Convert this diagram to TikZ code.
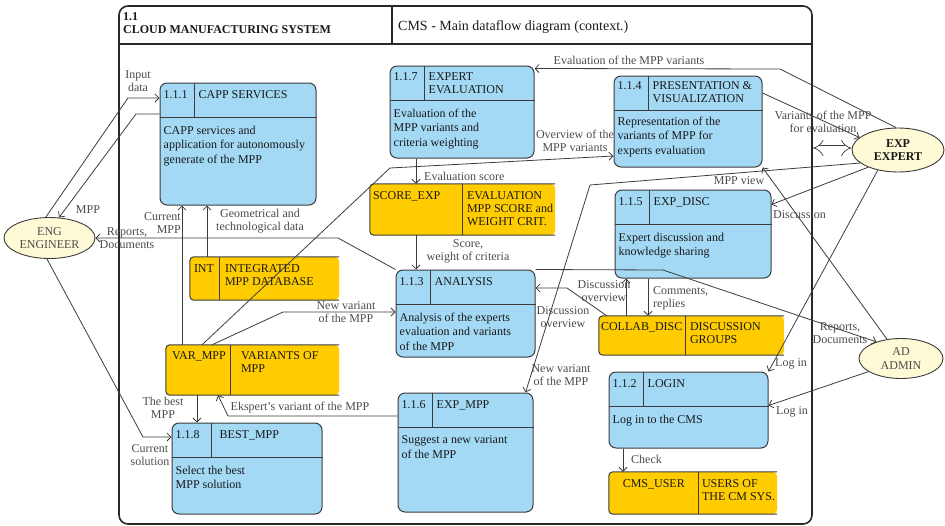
\documentclass[tikz,border=0pt]{standalone}
\usepackage{fontspec}
\setmainfont{Liberation Serif}
\usetikzlibrary{shapes.geometric,arrows.meta}

\begin{document}
\begin{tikzpicture}[x=1pt,y=-1pt,
    proc/.style={shape=rectangle,draw=linegray,line width=1pt,fill=procblue,rounded corners=7pt,inner sep=0pt},
    store/.style={shape=rectangle,fill=storeyellow,rounded corners=4pt,inner sep=0pt},
    ext/.style={shape=ellipse,draw=linegray,line width=0.9pt,fill=extcream,inner sep=0pt,align=center,text=txtgray,font=\fontsize{12}{13.5}\selectfont},
    idtxt/.style={anchor=north west,inner sep=0pt,align=left,text=txtdark,font=\fontsize{12}{13}\selectfont},
    bodytxt/.style={anchor=north west,inner sep=0pt,align=left,text=txtdark,font=\fontsize{12}{14.5}\selectfont},
    lbl/.style={inner sep=0pt,align=center,text=txtgray,font=\fontsize{12}{13}\selectfont},
    flow/.style={draw=linegray,line width=0.8pt,-{Straight Barb[length=4pt,width=8pt]}},
    dblflow/.style={draw=linegray,line width=0.7pt,double distance=5pt,{Implies[length=6pt]}-{Implies[length=6pt]}},
    divline/.style={draw=linegray,line width=1pt}]
    \definecolor{procblue}{RGB}{163,217,245}
    \definecolor{storeyellow}{RGB}{255,204,0}
    \definecolor{extcream}{RGB}{255,250,214}
    \definecolor{linegray}{RGB}{60,60,60}
    \definecolor{framegray}{RGB}{40,40,40}
    \definecolor{txtdark}{RGB}{25,25,25}
    \definecolor{txtgray}{RGB}{75,75,75}
    \useasboundingbox (0,0) rectangle (945,525);

    % frame of the diagram
    \draw[draw=framegray,line width=1.6pt,rounded corners=9pt] (119,6) rectangle (812,524);
    \draw[draw=framegray,line width=1.4pt] (119,44) -- (812,44) (392,6) -- (392,44);
    \node[idtxt,font=\fontsize{12}{13}\selectfont\bfseries] (title) at (123,12) {1.1\\CLOUD MANUFACTURING SYSTEM};
    \node[anchor=west,inner sep=0pt,text=txtdark,font=\fontsize{14}{16}\selectfont] (subtitle) at (398,27) {CMS - Main dataflow diagram (context.)};
    \coordinate (bnd) at (813,148);

    % processes
    \node[proc,minimum width=156,minimum height=122] (capp) at (238,144) {};
    \node[proc,minimum width=144,minimum height=92] (experteval) at (462,112) {};
    \node[proc,minimum width=148,minimum height=91] (present) at (688,121.5) {};
    \node[proc,minimum width=156,minimum height=88] (expdisc) at (693,234) {};
    \node[proc,minimum width=139,minimum height=87] (analysis) at (465.5,313.5) {};
    \node[proc,minimum width=135,minimum height=119] (expmpp) at (465.5,452.5) {};
    \node[proc,minimum width=159,minimum height=76] (login) at (688.5,410) {};
    \node[proc,minimum width=150,minimum height=91] (bestmpp) at (247,468.5) {};
    \foreach \b/\c in {capp/35,experteval/35,present/35,expdisc/35,analysis/35,expmpp/35,login/35,bestmpp/40}
        \draw[divline] ([yshift=-35]\b.north west) -- ([yshift=-35]\b.north east)
                       ([xshift=\c]\b.north west) -- ([xshift=\c,yshift=-35]\b.north west);

    \node[idtxt] (capp-id) at ([xshift=4,yshift=-8]capp.north west) {1.1.1};
    \node[idtxt] (capp-t) at ([xshift=39,yshift=-8]capp.north west) {CAPP SERVICES};
    \node[bodytxt] (capp-b) at ([xshift=4,yshift=-43]capp.north west) {CAPP services and\\application for autonomously\\generate of the MPP};
    \node[idtxt] (experteval-id) at ([xshift=4,yshift=-7]experteval.north west) {1.1.7};
    \node[idtxt] (experteval-t) at ([xshift=39,yshift=-7]experteval.north west) {EXPERT\\EVALUATION};
    \node[bodytxt] (experteval-b) at ([xshift=4,yshift=-43]experteval.north west) {Evaluation of the\\MPP variants and\\criteria weighting};
    \node[idtxt] (present-id) at ([xshift=4,yshift=-6]present.north west) {1.1.4};
    \node[idtxt] (present-t) at ([xshift=39,yshift=-6]present.north west) {PRESENTATION \&\\VISUALIZATION};
    \node[bodytxt] (present-b) at ([xshift=4,yshift=-41]present.north west) {Representation of the\\variants of MPP for\\experts evaluation};
    \node[idtxt] (expdisc-id) at ([xshift=4,yshift=-8]expdisc.north west) {1.1.5};
    \node[idtxt] (expdisc-t) at ([xshift=39,yshift=-8]expdisc.north west) {EXP\_DISC};
    \node[bodytxt] (expdisc-b) at ([xshift=4,yshift=-43]expdisc.north west) {Expert discussion and\\knowledge sharing};
    \node[idtxt] (analysis-id) at ([xshift=4,yshift=-8]analysis.north west) {1.1.3};
    \node[idtxt] (analysis-t) at ([xshift=39,yshift=-8]analysis.north west) {ANALYSIS};
    \node[bodytxt] (analysis-b) at ([xshift=4,yshift=-43]analysis.north west) {Analysis of the experts\\evaluation and variants\\of the MPP};
    \node[idtxt] (expmpp-id) at ([xshift=4,yshift=-8]expmpp.north west) {1.1.6};
    \node[idtxt] (expmpp-t) at ([xshift=39,yshift=-8]expmpp.north west) {EXP\_MPP};
    \node[bodytxt] (expmpp-b) at ([xshift=4,yshift=-43]expmpp.north west) {Suggest a new variant\\of the MPP};
    \node[idtxt] (login-id) at ([xshift=4,yshift=-8]login.north west) {1.1.2};
    \node[idtxt] (login-t) at ([xshift=39,yshift=-8]login.north west) {LOGIN};
    \node[bodytxt] (login-b) at ([xshift=4,yshift=-43]login.north west) {Log in to the CMS};
    \node[idtxt] (bestmpp-id) at ([xshift=4,yshift=-8]bestmpp.north west) {1.1.8};
    \node[idtxt] (bestmpp-t) at ([xshift=48,yshift=-8]bestmpp.north west) {BEST\_MPP};
    \node[bodytxt] (bestmpp-b) at ([xshift=4,yshift=-43]bestmpp.north west) {Select the best\\MPP solution};

    % data stores
    \node[store,minimum width=185,minimum height=51] (score) at (462.5,209.5) {};
    \node[store,minimum width=149,minimum height=43] (intdb) at (264.5,278.5) {};
    \node[store,minimum width=173,minimum height=50] (varmpp) at (252.5,370) {};
    \node[store,minimum width=185,minimum height=39] (collab) at (691.5,335.5) {};
    \node[store,minimum width=168,minimum height=42] (cmsuser) at (693,493) {};
    \foreach \s/\c in {score/93,intdb/30,varmpp/65,collab/87,cmsuser/90} {
        \draw[divline,rounded corners=4pt] (\s.north east) -| (\s.south west) -- (\s.south east);
        \draw[divline] ([xshift=\c]\s.north west) -- ([xshift=\c]\s.south west);
    }
    \node[idtxt] (score-id) at ([xshift=3,yshift=-8]score.north west) {SCORE\_EXP};
    \node[idtxt] (score-t) at ([xshift=97,yshift=-8]score.north west) {EVALUATION\\MPP SCORE and\\WEIGHT CRIT.};
    \node[idtxt] (intdb-id) at ([xshift=4,yshift=-8]intdb.north west) {INT};
    \node[idtxt] (intdb-t) at ([xshift=35,yshift=-8]intdb.north west) {INTEGRATED\\MPP DATABASE};
    \node[idtxt] (varmpp-id) at ([xshift=6,yshift=-7]varmpp.north west) {VAR\_MPP};
    \node[idtxt] (varmpp-t) at ([xshift=75,yshift=-7]varmpp.north west) {VARIANTS OF\\MPP};
    \node[idtxt] (collab-id) at ([xshift=2,yshift=-7]collab.north west) {COLLAB\_DISC};
    \node[idtxt] (collab-t) at ([xshift=91,yshift=-7]collab.north west) {DISCUSSION\\GROUPS};
    \node[idtxt,anchor=north] (cmsuser-id) at ([xshift=45,yshift=-8]cmsuser.north west) {CMS\_USER};
    \node[idtxt] (cmsuser-t) at ([xshift=93,yshift=-8]cmsuser.north west) {USERS OF\\THE CM SYS.};

    % external entities
    \node[ext,minimum width=91,minimum height=41] (eng) at (49.5,238) {ENG\\ENGINEER};
    \node[ext,minimum width=92,minimum height=44,text=txtdark,font=\fontsize{12}{13.5}\selectfont\bfseries] (expert) at (898,150) {EXP\\EXPERT};
    \node[ext,minimum width=84,minimum height=40] (admin) at (901,358.5) {AD\\ADMIN};

    % data flows
    \draw[flow] (eng.100) -- (128,98) -- (capp.west |- 0,98);
    \draw[flow] (capp.west |- 0,114) -- (136,114) -- (eng.65);
    \draw[flow] (analysis.north west) -- (338,238) -- (eng.east);
    \draw[flow] (varmpp.north -| 182,0) -- (capp.south -| 182,0);
    \draw[flow] (intdb.north -| 207,0) -- (capp.south -| 207,0);
    \draw[flow] (varmpp.north -| 202,0) -- (390,168) -- (present.west |- 0,156);
    \draw[flow] (varmpp.north -| 212,0) -- (283,312) -- (analysis.west |- 0,312);
    \draw[flow] (varmpp.south -| 197,0) -- (bestmpp.north -| 197,0);
    \draw[flow] (expmpp.west |- 0,416) -- (228,416) -- (varmpp.south -| 218,0);
    \draw[flow] (eng.263) -- (143,437) -- (bestmpp.west |- 0,437);
    \draw[flow] (experteval.south -| 416,0) -- (score.north -| 416,0);
    \draw[flow] (score.south -| 416,0) -- (analysis.north -| 416,0);
    \draw[flow] (expert.95) -- (780,69) -- ([yshift=-3]experteval.north east);
    \draw[flow] (present.north east |- 0,93) -- (expert.162);
    \draw[dblflow] (bnd) -- (expert.west |- bnd);
    \draw[flow] (admin.126) -- (present.south east);
    \draw[flow] (expert.225) -- (login.north east);
    \draw[flow] (expert.210) -- ([yshift=-15]expdisc.north east);
    \draw[flow] (expert.199) -- (590,185) -- ([xshift=-8]expmpp.north east);
    \draw[flow] (analysis.north east) -- (663,270) -- (admin.146);
    \draw[flow] (admin.202) -- ([yshift=-34]login.north east);
    \draw[flow] (collab.north -| 626,0) -- (expdisc.south -| 626,0);
    \draw[flow] (expdisc.south -| 648,0) -- (collab.north -| 648,0);
    \draw[flow] ([xshift=8]collab.north west) -- (567,288) -- (analysis.east |- 0,288);
    \draw[flow] (login.south -| 623,0) -- (cmsuser.north -| 623,0);

    % flow labels
    \node[lbl] (l-input) at (138,81) {Input\\data};
    \node[lbl] (l-mpp) at (88,210) {MPP};
    \node[lbl] (l-repeng) at (127,238) {Reports,\\Documents};
    \node[lbl,anchor=east,align=right] (l-curmpp) at (181,223) {Current\\MPP};
    \node[lbl] (l-geom) at (260,221) {Geometrical and\\technological data};
    \node[lbl] (l-overview) at (575,141) {Overview of the\\MPP variants};
    \node[lbl] (l-newvar) at (346,312) {New variant\\of the MPP};
    \node[lbl] (l-best) at (163,408) {The best\\MPP};
    \node[lbl] (l-eksp) at (300,408) {Ekspert's variant of the MPP};
    \node[lbl] (l-cursol) at (150,455) {Current\\solution};
    \node[lbl,anchor=west] (l-evscore) at (424,176) {Evaluation score};
    \node[lbl] (l-score) at (468,251) {Score,\\weight of criteria};
    \node[lbl] (l-evalvar) at (629,60) {Evaluation of the MPP variants};
    \node[lbl] (l-variants) at (823,122) {Variants of the MPP\\for evaluation};
    \node[lbl] (l-view) at (739,181) {MPP view};
    \node[lbl,anchor=west] (l-login1) at (775,364) {Log in};
    \node[lbl,anchor=west] (l-disc) at (773,215) {Discussion};
    \node[lbl] (l-newvar2) at (561,375) {New variant\\of the MPP};
    \node[lbl] (l-repadm) at (840,333) {Reports,\\Documents};
    \node[lbl,anchor=west] (l-login2) at (776,412) {Log in};
    \node[lbl] (l-discov1) at (604,291) {Discussion\\overview};
    \node[lbl,anchor=west,align=left] (l-comments) at (653,298) {Comments,\\replies};
    \node[lbl] (l-discov2) at (563,317) {Discussion\\overview};
    \node[lbl,anchor=west] (l-check) at (631,459) {Check};
\end{tikzpicture}
\end{document}
